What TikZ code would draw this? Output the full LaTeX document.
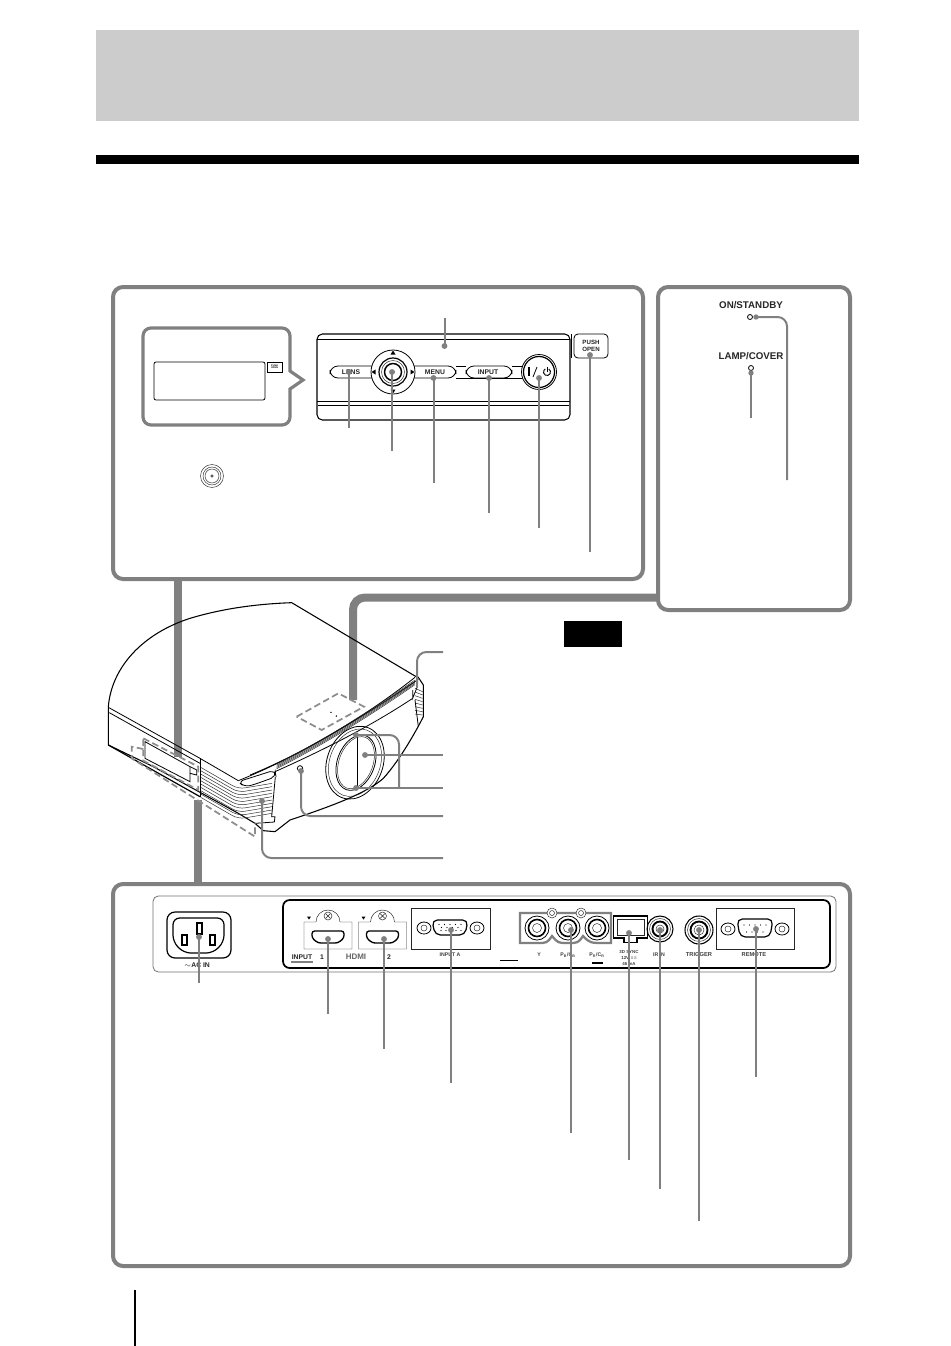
\documentclass[tikz,border=0pt]{standalone}
\usepackage{fontspec}
\setmainfont{Liberation Sans}
\usetikzlibrary{arrows.meta,calc}
\definecolor{lead}{HTML}{808080}
\definecolor{band}{HTML}{CCCCCC}
\tikzset{
 callout/.style={draw=lead,line width=3pt,rounded corners=7.5pt,fill=white},
 link/.style={draw=lead,line width=6pt},
 leader/.style={draw=lead,line width=1.5pt,rounded corners=7pt},
 dot/.style={circle,fill=lead,minimum size=4.4pt,inner sep=0pt},
 ink/.style={draw=black,line width=.6pt},
 inkthin/.style={draw=black!85,line width=.35pt},
 lbl/.style={font=\bfseries\fontsize{5.1}{6}\selectfont,inner sep=0pt,text=black!85},
 bigone/.style={font=\bfseries\fontsize{7.3}{8}\selectfont,inner sep=0pt,text=black!85},
 tinylbl/.style={font=\bfseries\fontsize{3.9}{4.6}\selectfont,inner sep=0pt,text=black!75,align=center},
 dashbox/.style={draw=lead!90,line width=1.3pt,dash pattern=on 5pt off 2.6pt},
}
\begin{document}
\begin{tikzpicture}[x=.75pt,y=-.75pt]
\useasboundingbox (0,0) rectangle (950,1346);
\fill[white] (0,0) rectangle (950,1346);
% header
\fill[band] (96,30) rectangle (859,121);
\fill[black] (96,155) rectangle (859,164);
\fill[black] (564,621) rectangle (622,647);
\draw[black,line width=.9pt] (135,1290) -- (135,1346);

% linking bars
\draw[link] (178,575) -- (178,757);
\draw[link,rounded corners=9pt] (353,700) -- (353,597.5) -- (662,597.5);
\draw[link] (198,800) -- (198,886);

% projector (zoomed coordinates)
\begin{scope}[shift={(90,590)},x=.25pt,y=-.25pt]
 \draw[ink,line width=.8pt] (55,465) -- (55,350) .. controls (65,230) and (160,130) .. (300,85)
   .. controls (400,55) and (500,42) .. (605,38) -- (975,258) -- (985,262) -- (1000,285) -- (1000,380)
   .. controls (980,420) and (930,510) .. (880,565) .. controls (830,610) and (720,650) .. (600,690)
   -- (555,725) -- (520,722) -- (495,700) -- (445,670) -- (190,530) -- cycle;
 % left face lines
 \draw[ink] (55,352) -- (330,505) -- (445,572);
 \draw[ink] (58,368) -- (330,520);
 \draw[ink,line width=.9pt] (55,465) -- (330,620);
 % front top ribbon
 \draw[ink] (445,572) .. controls (600,510) and (800,400) .. (975,262);
 \draw[ink] (480,555) .. controls (640,490) and (820,380) .. (985,268);
 \foreach \i in {0,...,4}{
   \draw[inkthin] ($(560,522)+(0,\i*3.5)$) .. controls (700,450+\i*3.5) and (830,370+\i*3.5) .. ($(975,270)+(0,\i*3.5)$);
 }
 \draw[ink] (555,545) .. controls (700,480) and (840,410) .. (968,325);
 \draw[ink] (968,300) -- (968,325) -- (982,290);
 % nose + grille
 \draw[ink,rounded corners=4pt] (445,575) -- (555,540) -- (558,560) .. controls (530,570) and (490,585) .. (462,590) -- cycle;
 \draw[ink] (556,560) -- (545,680) -- (555,680) -- (553,696) -- (495,700);
 \draw[ink] (330,505) -- (330,620);
 \foreach \i in {0,...,9}{
   \draw[inkthin,rounded corners=5pt] (332,532+\i*10) -- (445,597+\i*10) -- (546,580+\i*10);
 }
 % right vent
 \foreach \i in {0,...,7}{
   \draw[inkthin] (975,295+\i*11) -- (998,305+\i*10);
 }
 \draw[ink] (975,330) -- (985,410);
 % panel recess
 \draw[ink] (165,455) -- (300,530) -- (300,575) -- (165,505) -- cycle;
 \draw[ink] (300,530) -- (320,540) -- (320,555) -- (300,550);
 % lens
 \draw[ink] (795,518) ellipse [x radius=84,y radius=112,rotate=-20];
 \draw[inkthin] (795,518) ellipse [x radius=76,y radius=104,rotate=-20];
 \draw[ink] (798,518) ellipse [x radius=56,y radius=86,rotate=-20];
 \draw[inkthin] (798,518) ellipse [x radius=51,y radius=81,rotate=-20];
 \draw[ink] (802,440) -- (802,595);
 \draw[ink] (630,535) circle [radius=8];
 \fill (723,367) circle [radius=2.5];
 \fill (739,378) circle [radius=2.5];
 % dashed outlines
 \draw[dashbox] (620,380) -- (745,310) -- (822,350) -- (695,420) -- cycle;
 \draw[dashbox] (160,445) -- (325,530) -- (325,600) -- (160,512) -- cycle;
 \draw[dashbox] (160,477) -- (125,470) -- (125,505) -- (495,740) -- (495,700);
\end{scope}

% projector leaders
\coordinate (onTop) at (417,687);
\coordinate (topEnd) at (443,652);
\draw[leader] (onTop) -- (417,652) -- (topEnd);
\node[dot] (lensC) at (365,755) {};
\coordinate (lensEnd) at (443,755);
\draw[leader] (lensC.center) -- (lensEnd);
\node[dot] (ringT) at (356,735) {};
\node[dot] (ringB) at (356,788) {};
\coordinate (ringEnd) at (443,788);
\draw[leader] (ringT.center) -- (399,735) -- (399,788);
\draw[leader] (ringB.center) -- (ringEnd);
\node[dot] (sensor) at (301,771) {};
\coordinate (sensorEnd) at (443,816);
\draw[leader] (sensor.center) -- (301,816) -- (sensorEnd);
\node[dot] (grille) at (262,801) {};
\coordinate (grilleEnd) at (443,858);
\draw[leader] (grille.center) -- (262,858) -- (grilleEnd);

% top callout
\draw[callout] (113,287) rectangle (643,579);
\draw[callout,line width=2.4pt,rounded corners=6pt] (143,328) rectangle (290,425);
\fill[white] (288,372) rectangle (292,388);
\draw[lead,line width=2.4pt,line join=miter] (290,371) -- (303,380) -- (290,389);
\draw[ink,rounded corners=1.5pt] (154,362) rectangle (265,400);
\draw[ink,fill=white] (267,362) rectangle (282,372);
\node[font=\bfseries\fontsize{1.8}{2}\selectfont,align=center,inner sep=0] (miniPush) at (274.5,367) {PUSH\\[-.5pt]OPEN};
\foreach \r in {11.5,9,7}{\draw[inkthin] (212,476) circle [radius=\r];}
\draw[inkthin] (212,476) circle [radius=1.2];

% control panel
\draw[ink,line width=.8pt,rounded corners=4pt] (317,334) rectangle (570,420);
\draw[ink] (317,339) -- (570,339);
\draw[ink] (317,401) -- (570,401);
\draw[ink] (318,405) -- (569,405);
\draw[ink,rounded corners=6pt] (372,366) -- (330,366) -- (330,378) -- (372,378);
\draw[ink,rounded corners=6pt] (414,366) -- (456,366) -- (456,378) -- (414,378);
\draw[ink,rounded corners=6pt] (466,366) rectangle (512,378);
\draw[ink] (456,366) -- (466,366);
\draw[ink] (456,378) -- (523,378);
\draw[ink] (512,366) -- (523,366);
\node[lbl] (lens) at (351,372) {LENS};
\node[lbl] (menu) at (435,372) {MENU};
\node[lbl] (input) at (488,372) {INPUT};
\draw[ink,fill=white] (393,372) circle [radius=22];
\draw[ink,line width=.9pt] (393,372) circle [radius=14];
\draw[inkthin] (393,372) circle [radius=11.5];
\draw[ink,line width=1.1pt] (393,372) circle [radius=8.5];
\draw[inkthin] (393,372) circle [radius=1.5];
\fill (393,350.5) -- (390.5,354.5) -- (395.5,354.5) -- cycle;
\fill (393,393.5) -- (390.5,389.5) -- (395.5,389.5) -- cycle;
\fill (371.5,372) -- (375.5,369.5) -- (375.5,374.5) -- cycle;
\fill (414.5,372) -- (410.5,369.5) -- (410.5,374.5) -- cycle;
\draw[ink,fill=white] (539,372) circle [radius=17.5];
\draw[ink,line width=.9pt] (539,372) circle [radius=15.5];
\draw[black,line width=.8pt] (529,367) -- (529,376);
\draw[black,line width=.6pt] (533,377) -- (537,367);
\draw[black,line width=.7pt] (547,366.5) -- (547,371.5);
\draw[black,line width=.7pt] (548.75,368.97) arc [start angle=-60,end angle=240,radius=3.5];
\draw[ink,rounded corners=3pt] (574,334) -- (608,334) -- (608,358) -- (574,358) -- cycle;
\draw[ink] (571,334) -- (571,358);
\node[font=\bfseries\fontsize{4.6}{5.6}\selectfont,align=center,inner sep=0,text=black!85] (push) at (591,346) {PUSH\\OPEN};

% leaders, top callout
\foreach \n/\x/\ya/\yb in {
  lensL/349/372/428, jog/392/372/451, menuL/433.5/378/483, inputL/489/378/513,
  powerL/539/378/528, pushL/590/355/552, panelL/444.5/346/318}{
  \node[dot] (\n-a) at (\x,\ya) {};
  \coordinate (\n-b) at (\x,\yb);
  \draw[leader] (\n-a.center) -- (\n-b);
}

% right callout
\draw[callout] (658,287) rectangle (850,610);
\node[bigone] (onstandby) at (751,305) {ON/STANDBY};
\node[bigone] (lampcover) at (751,356) {LAMP/COVER};
\draw[ink] (750,317) circle [radius=2.5];
\draw[ink] (751,368) circle [radius=2.5];
\node[dot,minimum size=4pt] (onDot) at (756,317) {};
\coordinate (onEnd) at (787,480);
\draw[leader] (onDot.center) -- (787,317) -- (onEnd);
\node[dot,minimum size=4pt] (lampDot) at (751,373) {};
\coordinate (lampEnd) at (751,418);
\draw[leader] (lampDot.center) -- (lampEnd);

% bottom callout
\draw[callout] (113,884) rectangle (850,1266);
\draw[draw=black!55,line width=.6pt,rounded corners=4pt] (153,896) rectangle (836,972);
\draw[black,line width=1.3pt,rounded corners=5pt] (283,968) -- (283,900) -- (830,900) -- (830,968) -- cycle;
\draw[ink] (500,960.5) -- (518,960.5);

% AC inlet
\draw[ink,line width=.9pt,rounded corners=6pt] (167,912) rectangle (231,958);
\draw[ink,line width=.9pt,rounded corners=5pt] (173,918) -- (224,918) -- (224,942) -- (213,953) -- (184,953) -- (173,942) -- cycle;
\draw[ink,line width=.8pt] (182,935) rectangle (187,945);
\draw[ink,line width=.8pt] (210,935) rectangle (215,945);
\draw[ink,line width=.8pt] (197,923) rectangle (202,934);
\node[lbl] (acin) at (197,965) {$\sim$AC IN};

% HDMI ports
\foreach \h/\dx in {1/0,2/54.5}{
 \begin{scope}[xshift=\dx*.75pt]
  \draw[inkthin,fill=white] (304,922) -- (316,922) arc [start angle=180,end angle=360,radius=12] -- (352,922) -- (352,949) -- (304,949) -- cycle;
  \draw[inkthin] (328,916) circle [radius=4];
  \draw[inkthin] (325.5,913.5) -- (330.5,918.5) (325.5,918.5) -- (330.5,913.5);
  \fill (307,916.5) -- (311,916.5) -- (309,919.5) -- cycle;
  \draw[ink,line width=1pt,rounded corners=2pt] (312,931) -- (344,931) -- (344,938) -- (338,943) -- (318,943) -- (312,938) -- cycle;
 \end{scope}
}
\node[lbl] (inputT) at (302,957) {INPUT};
\draw[lead,line width=.9pt] (291,962) -- (313,962);
\node[lbl] (one) at (322,957) {1};
\node[lbl,font=\bfseries\fontsize{6}{6}\selectfont,text=black!60] (hdmi) at (356,957) {HDMI};
\node[lbl] (two) at (389,957) {2};

% Input A
\draw[inkthin] (411,908) rectangle (490,949);
\draw[ink,line width=.9pt,rounded corners=4pt] (432,920) -- (468,920) -- (465,935) -- (435,935) -- cycle;
\foreach \sx in {424,477}{
  \draw[ink] (\sx,928) ellipse [x radius=7,y radius=6];
  \draw[inkthin] (\sx,928) circle [radius=3];
}
\foreach \i in {0,...,4}{
  \fill (439+\i*5.5,924.5) circle [radius=.6];
  \fill (441+\i*5,930.5) circle [radius=.6];
}
\foreach \i in {0,...,3}{\fill (441.5+\i*5.5,927.5) circle [radius=.6];}
\node[tinylbl] (inputA) at (450,955) {INPUT A};

% Component jacks
\draw[lead,line width=1.7pt] (520,913) -- (611,913) -- (611,943) -- (605,943)
  .. controls (590,943) .. (583,936) .. controls (578,943) .. (568,943)
  .. controls (558,943) .. (552,936) .. controls (547,943) .. (537,943) -- (520,943) -- cycle;
\foreach \sx in {552,581}{
  \draw[inkthin,fill=white] (\sx,913) circle [radius=5];
  \draw[inkthin] (\sx,913) circle [radius=2.5];
}
\foreach \jx in {537,568,597}{
  \draw[ink,fill=white] (\jx,928) circle [radius=12];
  \draw[ink,line width=1.2pt] (\jx,928) circle [radius=8.5];
  \draw[inkthin] (\jx,928) circle [radius=4.5];
}
\node[tinylbl] (y) at (539,955) {Y};
\node[tinylbl] (pb) at (568,955) {P\textsubscript{B}/C\textsubscript{B}};
\node[tinylbl] (pr) at (597,955) {P\textsubscript{R}/C\textsubscript{R}};
\draw[black,line width=.7pt] (592,962) rectangle (602,963);

% 3D sync
\draw[black,line width=1.4pt] (613.5,916) -- (647.5,916) -- (647.5,938) -- (637,938) -- (637,942.5) -- (624,942.5) -- (624,938) -- (613.5,938) -- cycle;
\draw[inkthin] (617,919) rectangle (644,935);
\node[tinylbl,font=\bfseries\fontsize{3.3}{4.5}\selectfont] (sync) at (629,958) {3D SYNC\\12V$\,$=\,=\\46 mA};

% IR and trigger
\foreach \jx/\jy/\jr in {660/929/13,699/930/14}{
  \draw[ink,line width=.8pt] (\jx,\jy) circle [radius=\jr];
  \draw[inkthin] (\jx,\jy) circle [radius=\jr-2.5];
  \draw[ink,line width=1.4pt] (\jx,\jy) circle [radius=\jr-5.5];
  \draw[inkthin] (\jx,\jy) circle [radius=\jr-9];
}
\node[tinylbl] (irin) at (659,955) {IR IN};
\node[tinylbl,font=\bfseries\fontsize{4.3}{5}\selectfont] (trigger) at (699,955) {TRIGGER};

% Remote
\draw[inkthin] (716,908) rectangle (794,949);
\draw[ink,line width=.9pt,rounded corners=4pt] (737,919) -- (773,919) -- (770,937) -- (740,937) -- cycle;
\foreach \sx in {728,782}{
  \draw[ink] (\sx,929) ellipse [x radius=7,y radius=6];
  \draw[inkthin] (\sx,929) circle [radius=3];
}
\foreach \i in {0,...,4}{\fill (744+\i*5.5,925) circle [radius=.6];}
\foreach \i in {0,...,3}{\fill (746.5+\i*5.5,932) circle [radius=.6];}
\node[tinylbl,font=\bfseries\fontsize{4.3}{5}\selectfont] (remote) at (754,955) {REMOTE};

% leaders, bottom callout
\foreach \n/\x/\ya/\yb in {
  acL/199/937/983, hdmiA/328/939/1014, hdmiB/384/939/1049, inA/451/930/1083,
  compL/571/930/1133, syncL/629/933/1160, irL/660/930/1189, trigL/699/930/1221, remL/756/929/1077}{
  \node[dot] (\n-a) at (\x,\ya) {};
  \coordinate (\n-b) at (\x,\yb);
  \draw[leader] (\n-a.center) -- (\n-b);
}
\end{tikzpicture}
\end{document}
